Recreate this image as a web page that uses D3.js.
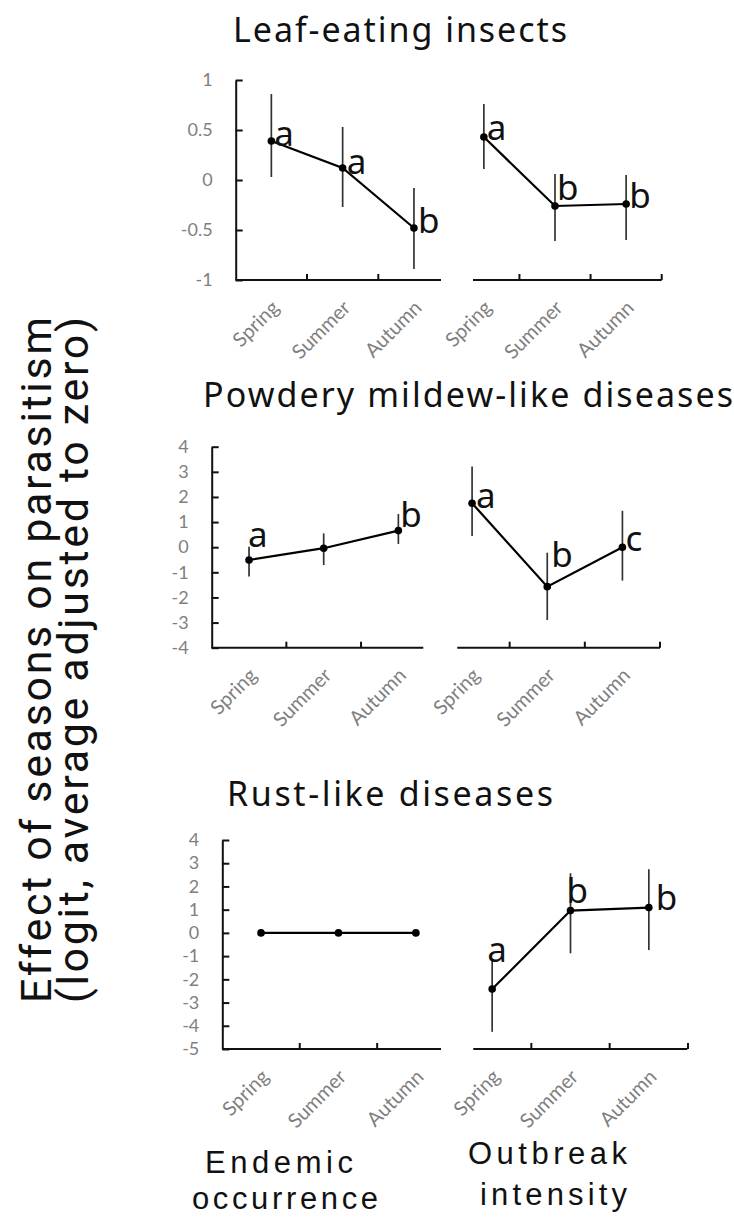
<!DOCTYPE html>
<html><head><meta charset="utf-8">
<script src="https://cdn.jsdelivr.net/npm/d3@7"></script>
<style>body{margin:0;background:#fff} svg{display:block}</style>
</head><body>
<svg id="chart" width="734" height="1217"></svg>
<script>
// ---------------- DATA ----------------
const seasons = ["Spring", "Summer", "Autumn"];

const leafTicks = [-1, -0.5, 0, 0.5, 1];
const powderyTicks = [-4, -3, -2, -1, 0, 1, 2, 3, 4];
const rustTicks = [-5, -4, -3, -2, -1, 0, 1, 2, 3, 4];

// Leaf-eating insects
const leafEndemicMean = [0.39, 0.12, -0.48];
const leafEndemicLow  = [0.03, -0.27, -0.89];
const leafEndemicHigh = [0.86, 0.53, -0.08];
const leafEndemicLetters = ["a", "a", "b"];
const leafOutbreakMean = [0.43, -0.26, -0.24];
const leafOutbreakLow  = [0.11, -0.61, -0.60];
const leafOutbreakHigh = [0.76, 0.06, 0.05];
const leafOutbreakLetters = ["a", "b", "b"];

// Powdery mildew-like diseases
const powEndemicMean = [-0.51, -0.04, 0.66];
const powEndemicLow  = [-1.17, -0.71, 0.13];
const powEndemicHigh = [0.02, 0.55, 1.32];
const powEndemicLetters = ["a", "", "b"];
const powOutbreakMean = [1.75, -1.57, 0.0];
const powOutbreakLow  = [0.45, -2.90, -1.33];
const powOutbreakHigh = [3.21, -0.22, 1.45];
const powOutbreakLetters = ["a", "b", "c"];

// Rust-like diseases
const rustEndemicMean = [0.0, 0.0, 0.0];
const rustEndemicLow  = [-0.05, -0.1, -0.05];
const rustEndemicHigh = [0.05, 0.1, 0.05];
const rustEndemicLetters = ["", "", ""];
const rustOutbreakMean = [-2.42, 0.96, 1.09];
const rustOutbreakLow  = [-4.26, -0.88, -0.74];
const rustOutbreakHigh = [-1.17, 2.57, 2.74];
const rustOutbreakLetters = ["a", "b", "b"];

const panelTitles = ["Leaf-eating insects", "Powdery mildew-like diseases", "Rust-like diseases"];
const columnLabels = [["Endemic", "occurrence"], ["Outbreak", "intensity"]];
const yTitleLines = ["Effect of seasons on parasitism", "(logit, average adjusted to zero)"];

// ---------------- LAYOUT ----------------
const svg = d3.select("#chart");
const TICK_FONT = "Lato, 'Liberation Sans', sans-serif";
const TITLE_FONT = "'Noto Sans', 'DejaVu Sans', sans-serif";
const LABEL_FONT = "'Liberation Sans', Arial, sans-serif";
const GRAY = "#7f7f7f";

const rows = [
  { title: panelTitles[0], titleX: [233, 567], titleY: 42, ticks: leafTicks,
    yRange: [280, 80],
    left:  { x: [235.7, 449.6], axis: [235.7, 441], mean: leafEndemicMean, low: leafEndemicLow, high: leafEndemicHigh, letters: leafEndemicLetters,
             off: [[3, 5], [4, 6], [4, 5]] },
    right: { x: [448.3, 661.7], axis: [473, 661.7], mean: leafOutbreakMean, low: leafOutbreakLow, high: leafOutbreakHigh, letters: leafOutbreakLetters,
             off: [[3, 3], [2, -6], [3, 4]] } },
  { title: panelTitles[1], titleX: [203, 733], titleY: 407, ticks: powderyTicks,
    yRange: [647.7, 446.7],
    left:  { x: [211.7, 435.7], axis: [211.7, 423.3], mean: powEndemicMean, low: powEndemicLow, high: powEndemicHigh, letters: powEndemicLetters,
             off: [[-1, -13], [0, 0], [2, -4]] },
    right: { x: [434.5, 660], axis: [457.3, 660], mean: powOutbreakMean, low: powOutbreakLow, high: powOutbreakHigh, letters: powOutbreakLetters,
             off: [[4, 5], [4, -20], [3, 4]] } },
  { title: panelTitles[2], titleX: [227, 553], titleY: 806, ticks: rustTicks,
    yRange: [1049, 840],
    left:  { x: [222.3, 454.6], axis: [222.3, 441], mean: rustEndemicMean, low: rustEndemicLow, high: rustEndemicHigh, letters: rustEndemicLetters,
             off: [[0, 0], [0, 0], [0, 0]] },
    right: { x: [453, 688], axis: [473.3, 687.3], mean: rustOutbreakMean, low: rustOutbreakLow, high: rustOutbreakHigh, letters: rustOutbreakLetters,
             off: [[-5, -27], [-4, -8], [7, 2]] } }
];

function drawPanel(row, side, isRight) {
  const g = svg.append("g");
  const y = d3.scaleLinear().domain(d3.extent(row.ticks)).range(row.yRange);
  const x = d3.scaleBand().domain(seasons).range(side.x);
  const cx = s => x(s) + x.bandwidth() / 2;
  const y0 = row.yRange[0];

  if (!isRight) {
    const ax = g.append("g").attr("transform", `translate(${side.x[0]},0)`)
      .call(d3.axisLeft(y).tickValues(row.ticks).tickSize(-7).tickSizeOuter(0).tickPadding(23).tickFormat(d => String(d)));
    ax.select(".domain").attr("stroke", "#111").attr("stroke-width", 2);
    ax.selectAll(".tick line").attr("stroke", "#111").attr("stroke-width", 2);
    ax.selectAll(".tick text").attr("fill", GRAY).style("font-family", TICK_FONT).style("font-size", "18px");
  }
  // x axis line
  g.append("line").attr("x1", side.axis[0]).attr("x2", side.axis[1]).attr("y1", y0).attr("y2", y0)
    .attr("stroke", "#111").attr("stroke-width", 2);
  const tickXs = seasons.slice(1).map(s => x(s));
  if (isRight) tickXs.push(x.range()[1]);
  g.selectAll(".xt").data(tickXs).join("line")
    .attr("x1", d => d).attr("x2", d => d).attr("y1", y0).attr("y2", y0 - 6)
    .attr("stroke", "#111").attr("stroke-width", 2);
  // x labels
  g.selectAll(".xl").data(seasons).join("text")
    .attr("transform", s => `translate(${cx(s) + 9},${y0 + 29}) rotate(-45)`)
    .attr("text-anchor", "end")
    .attr("fill", GRAY).style("font-family", TICK_FONT).style("font-size", "20px")
    .text(s => s);

  // error bars
  g.selectAll(".eb").data(seasons).join("line")
    .attr("x1", s => cx(s)).attr("x2", s => cx(s))
    .attr("y1", (s, i) => y(side.low[i])).attr("y2", (s, i) => y(side.high[i]))
    .attr("stroke", "#333").attr("stroke-width", 1.7);
  // line
  g.append("path").datum(seasons)
    .attr("d", d3.line().x(s => cx(s)).y((s, i) => y(side.mean[i])))
    .attr("fill", "none").attr("stroke", "#000").attr("stroke-width", 2.2);
  // points
  g.selectAll(".pt").data(seasons).join("circle")
    .attr("cx", s => cx(s)).attr("cy", (s, i) => y(side.mean[i])).attr("r", 3.8).attr("fill", "#000");
  // letters
  g.selectAll(".lt").data(seasons).join("text")
    .attr("x", (s, i) => cx(s) + side.off[i][0])
    .attr("y", (s, i) => y(side.mean[i]) + side.off[i][1])
    .style("font-family", TITLE_FONT).style("font-size", "35px").attr("fill", "#111")
    .text((s, i) => side.letters[i]);
}

rows.forEach(row => {
  drawPanel(row, row.left, false);
  drawPanel(row, row.right, true);
  svg.append("text").attr("x", row.titleX[0]).attr("y", row.titleY)
    .attr("textLength", row.titleX[1] - row.titleX[0]).attr("lengthAdjust", "spacing")
    .style("font-family", TITLE_FONT).style("font-size", "34px").attr("fill", "#111")
    .text(row.title);
});

// column labels at bottom
const colPos = [
  [[205, 353, 1173], [192, 378, 1209]],
  [[468, 627, 1164], [480, 627, 1205]]
];
columnLabels.forEach((lines, c) => {
  lines.forEach((t, k) => {
    const p = colPos[c][k];
    svg.append("text").attr("x", p[0]).attr("y", p[2])
      .attr("textLength", p[1] - p[0]).attr("lengthAdjust", "spacing")
      .style("font-family", LABEL_FONT).style("font-size", "31px").attr("fill", "#111")
      .text(t);
  });
});

// y title
const yTitleX = [51, 88];
yTitleLines.forEach((t, k) => {
  svg.append("text").attr("transform", `translate(${yTitleX[k]},660) rotate(-90)`)
    .attr("text-anchor", "middle")
    .attr("textLength", 686).attr("lengthAdjust", "spacing")
    .style("font-family", "Roboto, sans-serif").style("font-size", "43px").attr("fill", "#111")
    .text(t);
});
</script>
</body></html>
